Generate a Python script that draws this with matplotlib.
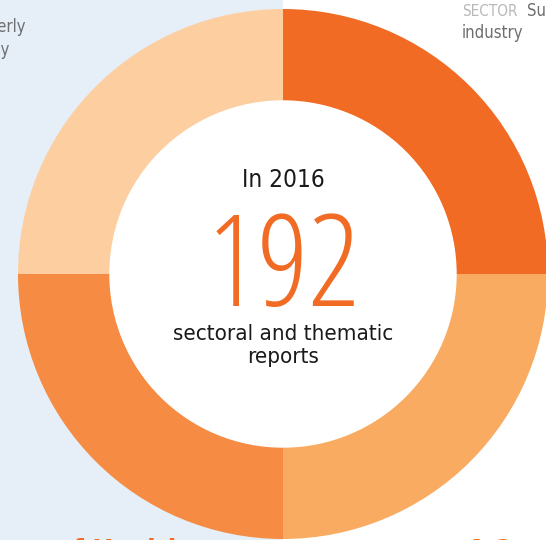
import matplotlib.pyplot as plt
from matplotlib.patches import Rectangle, Circle

# report sectors shown as equal quarters of the ring
sectors = ['Sustainable industry', 'Health', 'Social', 'Elderly and energy']
shares = [48, 48, 48, 48]
colors = ['#f26b24', '#f9ab62', '#f68c44', '#fdcfa0']

year_label = 'In 2016'
total_reports = 192
caption = ['sectoral and thematic', 'reports']

sans = ['DejaVu Sans']
dark = '#1a1a1a'
grey = '#6d6e70'

fig = plt.figure(figsize=(5.46, 5.40), dpi=100)
ax = fig.add_axes([0, 0, 1, 1])

# two-tone page background
ax.add_patch(Rectangle((0, 0), 283, 540, color='#e6eef7', zorder=0))
ax.add_patch(Rectangle((283, 0), 263, 540, color='white', zorder=0))

cx, cy = 283, 266
ax.pie(shares, colors=colors, startangle=90, counterclock=False,
       center=(cx, cy), radius=265, frame=True,
       wedgeprops=dict(width=92, linewidth=0))
ax.add_patch(Circle((cx, cy), 173, color='white', zorder=3))
ax.set_xlim(0, 546)
ax.set_ylim(0, 540)
ax.set_aspect('equal')
ax.axis('off')

ax.text(cx, 353, year_label, ha='center', va='baseline', fontsize=17.5,
        family=sans, fontstretch='condensed', color=dark, zorder=4)
ax.text(cx, 234, str(total_reports), ha='center', va='baseline', fontsize=92,
        family=['Open Sans', 'DejaVu Sans'], fontweight='light',
        fontstretch='condensed', color='#f26b24', zorder=4)
ax.text(cx, 200, caption[0], ha='center', va='baseline', fontsize=16,
        family=sans, fontstretch='condensed', color=dark, zorder=4)
ax.text(cx, 177, caption[1], ha='center', va='baseline', fontsize=16,
        family=sans, fontstretch='condensed', color=dark, zorder=4)

# neighbouring labels, cut by the page edges
ax.text(26, 508, 'Elderly', ha='right', va='baseline', fontsize=12,
        family=sans, fontstretch='condensed', color=grey)
ax.text(10, 485, 'energy', ha='right', va='baseline', fontsize=12,
        family=sans, fontstretch='condensed', color=grey)
ax.text(462, 524, 'SECTOR', ha='left', va='baseline', fontsize=11,
        family=sans, fontstretch='condensed', color='#b7b8ba')
ax.text(527, 524, 'Sustainable', ha='left', va='baseline', fontsize=12,
        family=sans, fontstretch='condensed', color=grey)
ax.text(462, 502, 'industry', ha='left', va='baseline', fontsize=12,
        family=sans, fontstretch='condensed', color=grey)
ax.text(35, -20, 't of Health', ha='left', va='baseline', fontsize=20,
        family=sans, fontstretch='condensed', fontweight='bold',
        color='#f26b24')
ax.text(467, -20, 'A 2', ha='left', va='baseline', fontsize=20,
        family=sans, fontstretch='condensed', fontweight='bold',
        color='#f26b24')

fig.savefig('out.png', dpi=100)
